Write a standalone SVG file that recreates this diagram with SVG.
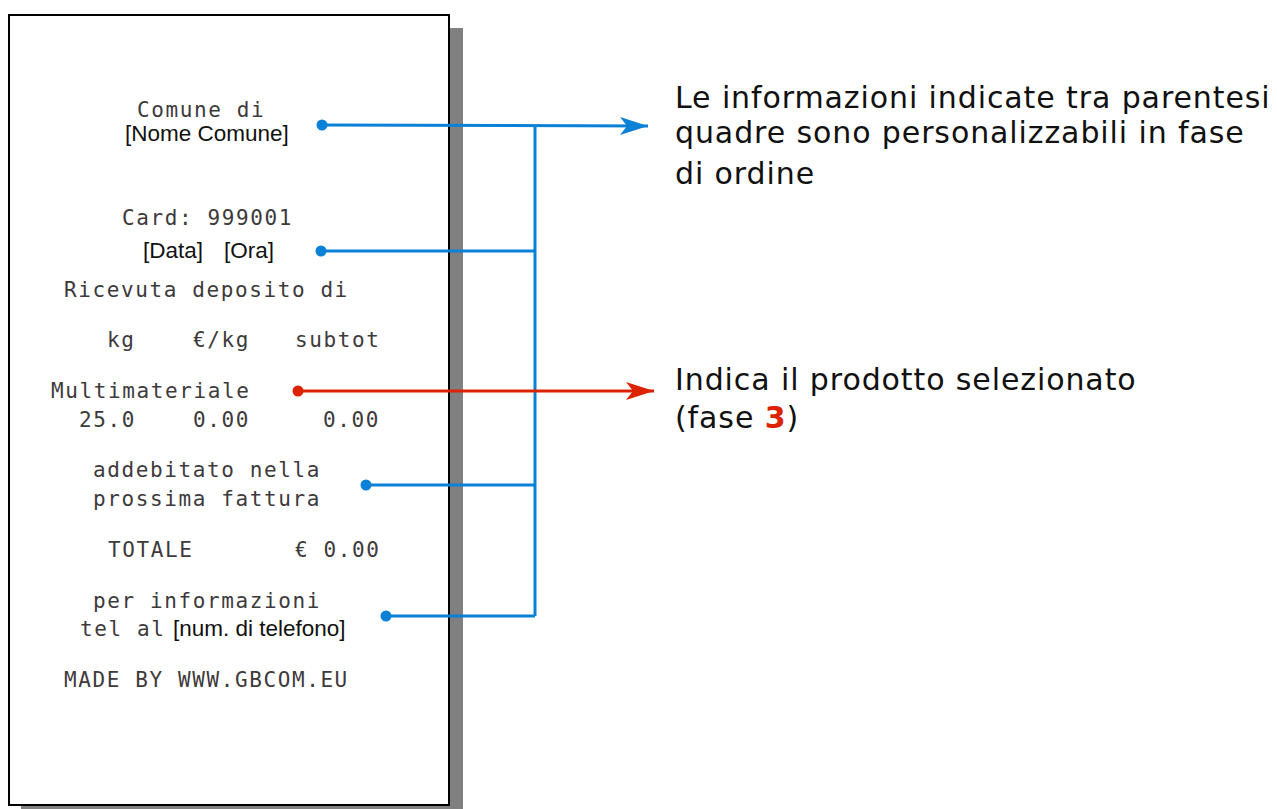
<svg xmlns="http://www.w3.org/2000/svg" width="1277" height="809" viewBox="0 0 1277 809">
<defs>
<style>
.m{font-family:"DejaVu Sans Mono","Liberation Mono",monospace;font-size:21px;letter-spacing:1.6px;fill:#3e3a3c}
.s{font-family:"Liberation Sans",Arial,sans-serif;font-size:22.5px;fill:#111}
.r{font-family:"DejaVu Sans",Verdana,sans-serif;font-size:30px;letter-spacing:0.9px;fill:#111}
.b{stroke:#0a80d6;stroke-width:3;fill:none}
.rd{stroke:#dd2200;stroke-width:3;fill:none}
</style>
<marker id="ab" markerWidth="30" markerHeight="20" refX="28" refY="10" markerUnits="userSpaceOnUse" orient="auto"><path d="M0,1 L28,10 L0,19 L7,10 Z" fill="#0a80d6"/></marker>
<marker id="ar" markerWidth="30" markerHeight="20" refX="28" refY="10" markerUnits="userSpaceOnUse" orient="auto"><path d="M0,1 L28,10 L0,19 L7,10 Z" fill="#dd2200"/></marker>
</defs>
<rect width="1277" height="809" fill="#fff"/>
<g id="receipt">
<rect x="449" y="28" width="14" height="781" fill="#808080"/>
<rect x="21" y="805" width="442" height="4" fill="#808080"/>
<rect x="9" y="15" width="440" height="790" fill="#fff" stroke="#000" stroke-width="2"/>
<text class="m" x="137" y="117">Comune di</text>
<text class="s" x="125" y="141">[Nome Comune]</text>
<text class="m" x="122" y="225">Card: 999001</text>
<text class="s" x="143" y="258">[Data]</text>
<text class="s" x="224" y="258">[Ora]</text>
<text class="m" x="64" y="297">Ricevuta deposito di</text>
<text class="m" x="107" y="347">kg</text>
<text class="m" x="193" y="347">€/kg</text>
<text class="m" x="295" y="347">subtot</text>
<text class="m" x="51" y="398">Multimateriale</text>
<text class="m" x="79" y="427">25.0</text>
<text class="m" x="193" y="427">0.00</text>
<text class="m" x="323" y="427">0.00</text>
<text class="m" x="93" y="477">addebitato nella</text>
<text class="m" x="93" y="506">prossima fattura</text>
<text class="m" x="108" y="557">TOTALE</text>
<text class="m" x="295" y="557">€ 0.00</text>
<text class="m" x="93" y="608">per informazioni</text>
<text class="m" x="80" y="636">tel al</text>
<text class="s" x="173" y="636">[num. di telefono]</text>
<text class="m" x="64" y="687">MADE BY WWW.GBCOM.EU</text>
</g>
<g id="note-custom">
<text class="r" x="675" y="108">Le informazioni indicate tra parentesi</text>
<text class="r" x="675" y="143">quadre sono personalizzabili in fase</text>
<text class="r" x="675" y="184">di ordine</text>
</g>
<g id="note-product">
<text class="r" x="675" y="390">Indica il prodotto selezionato</text>
<text class="r" x="675" y="428">(fase <tspan fill="#dd2200" font-weight="bold">3</tspan>)</text>
</g>
<g id="connectors">
<path class="b" d="M322,125 L648,126" marker-end="url(#ab)"/>
<path class="b" d="M535,125 L535,616"/>
<path class="b" d="M321,251 L535,251"/>
<path class="b" d="M366,485 L535,485"/>
<path class="b" d="M386,616 L535,616"/>
<path class="rd" d="M298,391 L654,391" marker-end="url(#ar)"/>
<g fill="#0a80d6">
<circle cx="322" cy="125" r="5.5"/>
<circle cx="321" cy="251" r="5.5"/>
<circle cx="366" cy="485" r="5.5"/>
<circle cx="386" cy="616" r="5.5"/>
</g>
<circle cx="298" cy="391" r="5.5" fill="#dd2200"/>
</g>
</svg>
